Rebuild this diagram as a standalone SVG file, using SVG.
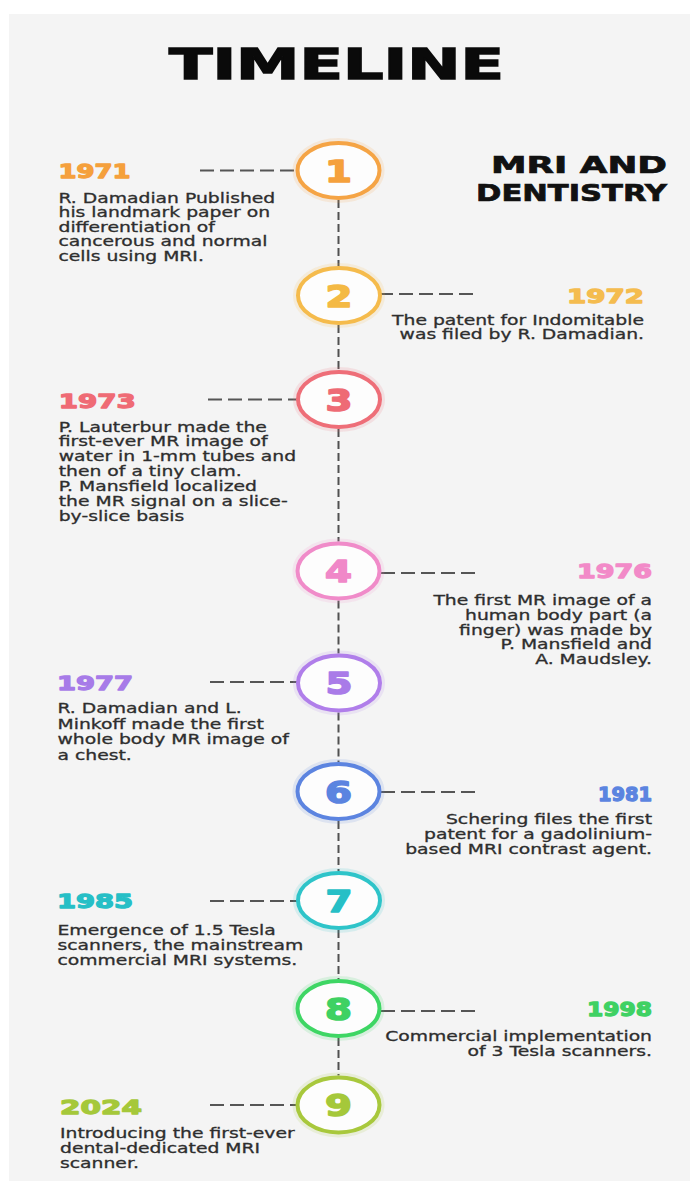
<svg xmlns="http://www.w3.org/2000/svg" width="690" height="1181" viewBox="0 0 690 1181">
<style>
.title{font-family:"DejaVu Sans","Liberation Sans",sans-serif;font-weight:bold;fill:#0a0a0a;stroke:#0a0a0a;stroke-width:1.4}
.sub{font-family:"DejaVu Sans","Liberation Sans",sans-serif;font-weight:bold;fill:#111;stroke:#111;stroke-width:0.7;font-size:23px}
.yr{font-family:"DejaVu Sans","Liberation Sans",sans-serif;font-weight:bold;font-size:20px;stroke-width:1.3;stroke-linejoin:round}
.desc{font-family:"DejaVu Sans","Liberation Sans",sans-serif;font-size:13.7px;fill:#2e2e2e;stroke:#2e2e2e;stroke-width:0.3}
.num{font-family:"DejaVu Sans","Liberation Sans",sans-serif;font-weight:bold;font-size:31px;text-anchor:middle;stroke-width:1.6;stroke-linejoin:round}
.ring{fill:#fdfdfd;stroke-width:4}
.glow{fill:none;stroke-width:10;stroke-opacity:0.15}
.vd{stroke:#505050;stroke-width:2;stroke-dasharray:8 4;fill:none}
.hd{stroke:#555;stroke-width:2;stroke-dasharray:14 6;fill:none}
</style>
<rect x="0" y="0" width="690" height="1181" fill="#ffffff"/>
<rect x="9" y="14" width="681" height="1167" fill="#f4f4f4"/>
<text class="title" x="169" y="79" font-size="42" textLength="335" lengthAdjust="spacingAndGlyphs">TIMELINE</text>
<g id="heading">
<text class="sub" x="667" y="173" text-anchor="end" textLength="176" lengthAdjust="spacingAndGlyphs">MRI AND</text>
<text class="sub" x="667" y="201" text-anchor="end" textLength="191" lengthAdjust="spacingAndGlyphs">DENTISTRY</text>
</g>
<g id="connectors">
<line class="vd" x1="338.5" y1="200" x2="338.5" y2="266"/>
<line class="vd" x1="338.5" y1="325" x2="338.5" y2="370"/>
<line class="vd" x1="338.5" y1="429" x2="338.5" y2="541.5"/>
<line class="vd" x1="338.5" y1="600.5" x2="338.5" y2="653.5"/>
<line class="vd" x1="338.5" y1="712.5" x2="338.5" y2="762"/>
<line class="vd" x1="338.5" y1="821" x2="338.5" y2="871"/>
<line class="vd" x1="338.5" y1="930" x2="338.5" y2="979"/>
<line class="vd" x1="338.5" y1="1038" x2="338.5" y2="1075.5"/>
<line class="hd" x1="200" y1="170.5" x2="297" y2="170.5"/>
<line class="hd" x1="473" y1="294" x2="380" y2="294"/>
<line class="hd" x1="208" y1="399.5" x2="297" y2="399.5"/>
<line class="hd" x1="475" y1="573" x2="380" y2="573"/>
<line class="hd" x1="210" y1="682" x2="297" y2="682"/>
<line class="hd" x1="475" y1="792" x2="380" y2="792"/>
<line class="hd" x1="210" y1="901" x2="297" y2="901"/>
<line class="hd" x1="475" y1="1011" x2="380" y2="1011"/>
<line class="hd" x1="210" y1="1105" x2="297" y2="1105"/>
</g>
<g id="node1">
<ellipse class="glow" cx="338.5" cy="170.5" rx="41" ry="27.5" stroke="#f5a445"/>
<ellipse class="ring" cx="338.5" cy="170.5" rx="41" ry="27.5" stroke="#f5a445"/>
<text class="num" transform="matrix(1.25 0 0 1 338.5 0)" x="0" y="182" fill="#f5a13c" stroke="#f5a13c">1</text>
<text class="yr" x="58.5" y="177.5" textLength="72" lengthAdjust="spacingAndGlyphs" fill="#f5a03c" stroke="#f5a03c">1971</text>
<text class="desc" transform="matrix(1.37 0 0 1 58.5 0)"><tspan x="0" y="203">R. Damadian Published</tspan><tspan x="0" y="217.5">his landmark paper on</tspan><tspan x="0" y="232">differentiation of</tspan><tspan x="0" y="246.5">cancerous and normal</tspan><tspan x="0" y="261">cells using MRI.</tspan></text>
</g>
<g id="node2">
<ellipse class="glow" cx="339" cy="295.5" rx="41" ry="27.5" stroke="#f5bb4c"/>
<ellipse class="ring" cx="339" cy="295.5" rx="41" ry="27.5" stroke="#f5bb4c"/>
<text class="num" transform="matrix(1.25 0 0 1 339 0)" x="0" y="307" fill="#f4b944" stroke="#f4b944">2</text>
<text class="yr" x="644" y="302.5" text-anchor="end" textLength="77" lengthAdjust="spacingAndGlyphs" fill="#f4bc4f" stroke="#f4bc4f">1972</text>
<text class="desc" text-anchor="end" transform="matrix(1.37 0 0 1 644 0)"><tspan x="0" y="325">The patent for Indomitable</tspan><tspan x="0" y="339.5">was filed by R. Damadian.</tspan></text>
</g>
<g id="node3">
<ellipse class="glow" cx="339" cy="399.5" rx="41" ry="27.5" stroke="#ee6e78"/>
<ellipse class="ring" cx="339" cy="399.5" rx="41" ry="27.5" stroke="#ee6e78"/>
<text class="num" transform="matrix(1.25 0 0 1 339 0)" x="0" y="411" fill="#ee6b75" stroke="#ee6b75">3</text>
<text class="yr" x="58.7" y="407.5" textLength="77" lengthAdjust="spacingAndGlyphs" fill="#ef6b75" stroke="#ef6b75">1973</text>
<text class="desc" transform="matrix(1.37 0 0 1 58.7 0)"><tspan x="0" y="431.7">P. Lauterbur made the</tspan><tspan x="0" y="446.5">first-ever MR image of</tspan><tspan x="0" y="461.5">water in 1-mm tubes and</tspan><tspan x="0" y="476.5">then of a tiny clam.</tspan><tspan x="0" y="491">P. Mansfield localized</tspan><tspan x="0" y="506">the MR signal on a slice-</tspan><tspan x="0" y="521.5">by-slice basis</tspan></text>
</g>
<g id="node4">
<ellipse class="glow" cx="338.5" cy="571" rx="41" ry="27.5" stroke="#f08bc9"/>
<ellipse class="ring" cx="338.5" cy="571" rx="41" ry="27.5" stroke="#f08bc9"/>
<text class="num" transform="matrix(1.25 0 0 1 338.5 0)" x="0" y="582.5" fill="#f088c8" stroke="#f088c8">4</text>
<text class="yr" x="652" y="577.5" text-anchor="end" textLength="75" lengthAdjust="spacingAndGlyphs" fill="#f28ac8" stroke="#f28ac8">1976</text>
<text class="desc" text-anchor="end" transform="matrix(1.37 0 0 1 652 0)"><tspan x="0" y="605">The first MR image of a</tspan><tspan x="0" y="620">human body part (a</tspan><tspan x="0" y="635">finger) was made by</tspan><tspan x="0" y="649.5">P. Mansfield and</tspan><tspan x="0" y="664">A. Maudsley.</tspan></text>
</g>
<g id="node5">
<ellipse class="glow" cx="339" cy="683" rx="41" ry="27.5" stroke="#b07eea"/>
<ellipse class="ring" cx="339" cy="683" rx="41" ry="27.5" stroke="#b07eea"/>
<text class="num" transform="matrix(1.25 0 0 1 339 0)" x="0" y="694.5" fill="#a97be8" stroke="#a97be8">5</text>
<text class="yr" x="57" y="689.5" textLength="76" lengthAdjust="spacingAndGlyphs" fill="#a77be8" stroke="#a77be8">1977</text>
<text class="desc" transform="matrix(1.37 0 0 1 57.5 0)"><tspan x="0" y="713">R. Damadian and L.</tspan><tspan x="0" y="729">Minkoff made the first</tspan><tspan x="0" y="744.5">whole body MR image of</tspan><tspan x="0" y="760">a chest.</tspan></text>
</g>
<g id="node6">
<ellipse class="glow" cx="338.5" cy="791.5" rx="41" ry="27.5" stroke="#5c84e0"/>
<ellipse class="ring" cx="338.5" cy="791.5" rx="41" ry="27.5" stroke="#5c84e0"/>
<text class="num" transform="matrix(1.25 0 0 1 338.5 0)" x="0" y="803" fill="#5b84e0" stroke="#5b84e0">6</text>
<text class="yr" x="652" y="800.5" text-anchor="end" textLength="54" lengthAdjust="spacingAndGlyphs" fill="#5b84e0" stroke="#5b84e0">1981</text>
<text class="desc" text-anchor="end" transform="matrix(1.37 0 0 1 652 0)"><tspan x="0" y="824">Schering files the first</tspan><tspan x="0" y="839">patent for a gadolinium-</tspan><tspan x="0" y="854">based MRI contrast agent.</tspan></text>
</g>
<g id="node7">
<ellipse class="glow" cx="339" cy="900.5" rx="41" ry="27.5" stroke="#2ec4c9"/>
<ellipse class="ring" cx="339" cy="900.5" rx="41" ry="27.5" stroke="#2ec4c9"/>
<text class="num" transform="matrix(1.25 0 0 1 339 0)" x="0" y="912" fill="#26bfc6" stroke="#26bfc6">7</text>
<text class="yr" x="57" y="907.5" textLength="76" lengthAdjust="spacingAndGlyphs" fill="#26bfc6" stroke="#26bfc6">1985</text>
<text class="desc" transform="matrix(1.37 0 0 1 57.5 0)"><tspan x="0" y="935">Emergence of 1.5 Tesla</tspan><tspan x="0" y="950">scanners, the  mainstream</tspan><tspan x="0" y="965">commercial MRI systems.</tspan></text>
</g>
<g id="node8">
<ellipse class="glow" cx="338.5" cy="1008.5" rx="41" ry="27.5" stroke="#3ed664"/>
<ellipse class="ring" cx="338.5" cy="1008.5" rx="41" ry="27.5" stroke="#3ed664"/>
<text class="num" transform="matrix(1.25 0 0 1 338.5 0)" x="0" y="1020" fill="#3fd163" stroke="#3fd163">8</text>
<text class="yr" x="652" y="1015.5" text-anchor="end" textLength="65" lengthAdjust="spacingAndGlyphs" fill="#3fd163" stroke="#3fd163">1998</text>
<text class="desc" text-anchor="end" transform="matrix(1.37 0 0 1 652 0)"><tspan x="0" y="1041.5">Commercial implementation</tspan><tspan x="0" y="1056">of 3 Tesla scanners.</tspan></text>
</g>
<g id="node9">
<ellipse class="glow" cx="338.5" cy="1105" rx="41" ry="27.5" stroke="#a8c83c"/>
<ellipse class="ring" cx="338.5" cy="1105" rx="41" ry="27.5" stroke="#a8c83c"/>
<text class="num" transform="matrix(1.25 0 0 1 338.5 0)" x="0" y="1116.5" fill="#a5c83a" stroke="#a5c83a">9</text>
<text class="yr" x="60" y="1113.5" textLength="82" lengthAdjust="spacingAndGlyphs" fill="#a5c83a" stroke="#a5c83a">2024</text>
<text class="desc" transform="matrix(1.37 0 0 1 60 0)"><tspan x="0" y="1138">Introducing the first-ever</tspan><tspan x="0" y="1153">dental-dedicated MRI</tspan><tspan x="0" y="1168">scanner.</tspan></text>
</g>
</svg>
